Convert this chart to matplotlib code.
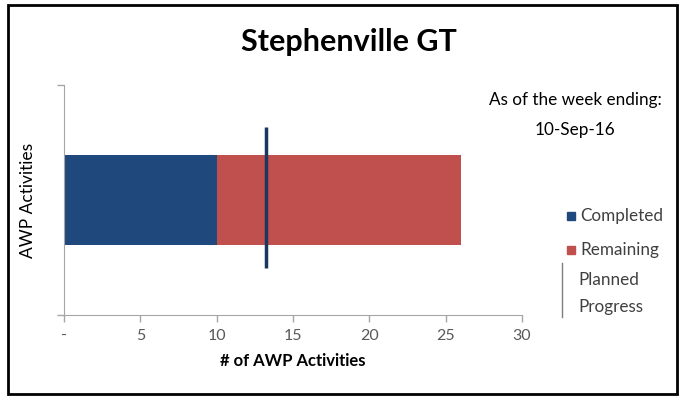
import matplotlib.pyplot as plt
from matplotlib.patches import Rectangle

# data
categories = ["AWP"]
completed = [10]
remaining = [16]
planned_progress = 13.2
x_ticks = [0, 5, 10, 15, 20, 25, 30]
x_tick_labels = ["-", "5", "10", "15", "20", "25", "30"]
week_ending = "10-Sep-16"

plt.rcParams["font.family"] = ["Lato", "DejaVu Sans"]

fig = plt.figure(figsize=(6.85, 4.04), dpi=100)
ax = fig.add_axes([64 / 685, 1 - 315 / 404, 458 / 685, 230 / 404])

ax.barh(categories, completed, height=0.39, color="#1F497D")
ax.barh(categories, remaining, left=completed, height=0.39, color="#C0504D")
ax.vlines(planned_progress, -0.294, 0.316, color="#1B365F", linewidth=2.5)

ax.set_xlim(0, 30)
ax.set_ylim(-0.5, 0.5)
ax.set_xticks(x_ticks)
ax.set_xticklabels(x_tick_labels, fontsize=11.5)
ax.set_yticks([-0.5, 0.5])
ax.set_yticklabels([])
ax.tick_params(axis="both", colors="#A6A6A6", length=5, width=1, labelcolor="#595959")
ax.tick_params(axis="x", pad=5)
for s in ["top", "right"]:
    ax.spines[s].set_visible(False)
for s in ["left", "bottom"]:
    ax.spines[s].set_color("#A6A6A6")

ax.set_xlabel("# of AWP Activities", fontsize=12, fontweight="bold", labelpad=7)
ax.set_ylabel("AWP Activities", fontsize=12.5, labelpad=12)

fig.text(349 / 685, 1 - 42 / 404, "Stephenville GT", ha="center", va="center",
         fontsize=22, fontweight="bold")
fig.text(575 / 685, 1 - 100 / 404, "As of the week ending:", ha="center", va="center",
         fontsize=12.3)
fig.text(575 / 685, 1 - 130 / 404, week_ending, ha="center", va="center", fontsize=12.3)

# legend drawn by hand to match Excel layout
for label, color, y in [("Completed", "#1F497D", 216), ("Remaining", "#C0504D", 250)]:
    fig.add_artist(Rectangle((567 / 685, 1 - (y + 4) / 404), 8 / 685, 8 / 404,
                             transform=fig.transFigure, color=color))
    fig.text(580 / 685, 1 - y / 404, label, ha="left", va="center", fontsize=12.3,
             color="#404040")
fig.add_artist(plt.Line2D([562 / 685, 562 / 685], [1 - 263 / 404, 1 - 317 / 404],
                          transform=fig.transFigure, color="#7F7F7F", linewidth=1))
fig.text(578 / 685, 1 - 280 / 404, "Planned", ha="left", va="center", fontsize=12.3,
         color="#404040")
fig.text(578 / 685, 1 - 307 / 404, "Progress", ha="left", va="center", fontsize=12.3,
         color="#404040")

# outer frame
fig.add_artist(Rectangle((8 / 685, 1 - 394 / 404), 669 / 685, 389 / 404,
                         transform=fig.transFigure, fill=False, edgecolor="black",
                         linewidth=2))

fig.savefig("out.png", dpi=100)
